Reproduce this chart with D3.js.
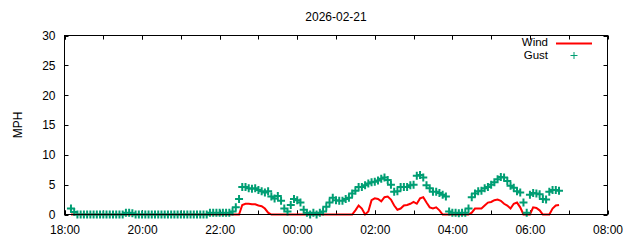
<!DOCTYPE html>
<html>
<head>
<meta charset="utf-8">
<script src="https://cdn.jsdelivr.net/npm/d3@7"></script>
<style>
  body { margin: 0; background: #fff; }
  text { font-family: "Liberation Sans", Arial, sans-serif; font-size: 12px; fill: #000; }
</style>
</head>
<body>
<div id="chart"></div>
<script>
// Data section

var title = "2026-02-21";
var yLabel = "MPH";
var seriesNames = ["Wind", "Gust"];

// first sample and spacing of the weather station readings
var startTime = "2026-02-20 18:10";
var stepMinutes = 5;

var yTicks = [0, 5, 10, 15, 20, 25, 30];
var xTickTimes = ["2026-02-20 18:00", "2026-02-20 20:00", "2026-02-20 22:00", "2026-02-21 00:00",
                  "2026-02-21 02:00", "2026-02-21 04:00", "2026-02-21 06:00", "2026-02-21 08:00"];

// gust readings (mph), one every 5 minutes
var gust = [
  1.0, 0.4, 0, 0, 0, 0, 0, 0, 0, 0,                       // 18:10 - 18:55
  0, 0, 0, 0, 0, 0, 0, 0.3, 0.3, 0.2, 0, 0,                // 19
  0, 0, 0, 0, 0, 0, 0, 0, 0, 0, 0, 0,                      // 20
  0, 0, 0, 0, 0, 0, 0, 0, 0, 0.3, 0.3, 0.3,                // 21
  0.3, 0.3, 0.3, 0.3, 0.5, 1.2, 2.6, 4.6, 4.6, 4.4, 4.3, 4.4, // 22
  4.1, 3.9, 3.7, 3.9, 3.0, 2.7, 3.1, 2.3, 1.0, 0.5, 1.6, 2.6, // 23
  2.4, 2.0, 0.8, 0.3, 0, 0.3, 0, 0.3, 0.5, 1.3, 2.0, 2.8,  // 00
  2.4, 2.3, 2.3, 2.6, 2.8, 3.5, 4.0, 4.6, 4.6, 4.9, 5.2, 5.4, // 01
  5.5, 5.7, 6.0, 6.2, 5.8, 5.0, 3.8, 3.9, 4.6, 4.6, 4.6, 4.9, // 02
  5.0, 6.5, 6.6, 6.2, 4.9, 4.4, 3.8, 3.8, 3.6, 3.3, 3.0, 0.5, // 03
  0.3, 0.3, 0.2, 0.3, 0.3, 1.0, 2.9, 3.5, 3.9, 4.0, 4.4, 4.6, // 04
  5.0, 5.4, 5.9, 6.3, 6.2, 5.6, 4.8, 4.5, 3.9, 3.7, 2.0, 0.3, // 05
  3.3, 3.6, 3.5, 3.4, 2.6, 2.5, 3.8, 4.1, 4.1, 4.0          // 06:00 - 06:45
];

// wind readings (mph), same times
var wind = [
  0, 0, 0, 0, 0, 0, 0, 0, 0, 0,
  0, 0, 0, 0, 0, 0, 0, 0, 0, 0, 0, 0,
  0, 0, 0, 0, 0, 0, 0, 0, 0, 0, 0, 0,
  0, 0, 0, 0, 0, 0, 0, 0, 0, 0, 0, 0,
  0, 0, 0, 0, 0, 0, 0, 1.6, 1.8, 1.8, 1.7, 1.7,
  1.5, 1.4, 1.0, 0.3, 0, 0, 0, 0, 0, 0, 0, 0,
  0, 0, 0, 0, 0, 0, 0, 0, 0, 0, 0, 0,
  0, 0, 0, 0, 0, 0, 0.7, 1.5, 1.0, 0, 0.5, 2.4,
  2.7, 2.6, 2.2, 2.9, 3.0, 2.5, 1.5, 0.8, 1.0, 1.5, 1.6, 1.8,
  2.1, 1.8, 2.7, 2.9, 2.0, 1.2, 1.0, 1.2, 0.7, 0, 0, 0,
  0, 0, 0, 0, 0, 0, 0.3, 1.0, 1.0, 1.0, 1.5, 2.0,
  2.1, 2.4, 2.5, 2.3, 1.8, 1.5, 1.0, 1.8, 2.0, 1.2, 0, 0,
  0, 1.2, 1.1, 0.7, 0, 0, 0, 1.0, 1.5, 1.6
];

// Graph space section

var width = 640;
var height = 240;
var plotLeft = 64.5;
var plotRight = 607.5;
var plotTop = 35.5;
var plotBottom = 214.5;

var parseTime = d3.timeParse("%Y-%m-%d %H:%M");
var t0 = parseTime(startTime);

var readings = gust.map(function(g, i) {
  return { time: d3.timeMinute.offset(t0, i * stepMinutes), gust: g, wind: wind[i] };
});

var tickDates = xTickTimes.map(parseTime);

var x = d3.scaleTime()
  .domain([tickDates[0], tickDates[tickDates.length - 1]])
  .range([plotLeft, plotRight]);

var y = d3.scaleLinear()
  .domain([yTicks[0], yTicks[yTicks.length - 1]])
  .range([plotBottom, plotTop]);

var svg = d3.select("#chart")
  .append("svg")
  .attr("width", width)
  .attr("height", height);

// hourly minor ticks in between the labelled ones
var minorTicks = d3.timeHour.range(tickDates[0], tickDates[tickDates.length - 1]);

// bottom axis with labels
svg.append("g")
  .attr("transform", "translate(0," + plotBottom + ")")
  .call(d3.axisBottom(x).tickValues(tickDates).tickFormat(d3.timeFormat("%H:%M")).tickSize(0).tickPadding(11))
  .call(function(g) { g.select(".domain").remove(); })
  .selectAll("text").attr("font-family", null).attr("font-size", null);

// left axis with labels
svg.append("g")
  .attr("transform", "translate(" + plotLeft + ",0)")
  .call(d3.axisLeft(y).tickValues(yTicks).tickSize(0).tickPadding(9))
  .call(function(g) { g.select(".domain").remove(); })
  .selectAll("text").attr("font-family", null).attr("font-size", null);

// inward ticks, mirrored on top and right
var tickLen = 4;
var ticks = svg.append("g").attr("stroke", "#000").attr("stroke-width", 1);

ticks.selectAll(".xb").data(minorTicks.concat(tickDates)).enter().append("line")
  .attr("x1", function(d) { return Math.round(x(d)) + 0.5; })
  .attr("x2", function(d) { return Math.round(x(d)) + 0.5; })
  .attr("y1", plotBottom).attr("y2", plotBottom - tickLen);
ticks.selectAll(".xt").data(minorTicks.concat(tickDates)).enter().append("line")
  .attr("x1", function(d) { return Math.round(x(d)) + 0.5; })
  .attr("x2", function(d) { return Math.round(x(d)) + 0.5; })
  .attr("y1", plotTop).attr("y2", plotTop + tickLen);
ticks.selectAll(".yl").data(yTicks).enter().append("line")
  .attr("y1", function(d) { return Math.round(y(d)) + 0.5; })
  .attr("y2", function(d) { return Math.round(y(d)) + 0.5; })
  .attr("x1", plotLeft).attr("x2", plotLeft + tickLen);
ticks.selectAll(".yr").data(yTicks).enter().append("line")
  .attr("y1", function(d) { return Math.round(y(d)) + 0.5; })
  .attr("y2", function(d) { return Math.round(y(d)) + 0.5; })
  .attr("x1", plotRight).attr("x2", plotRight - tickLen);

// wind line
var windLine = d3.line()
  .x(function(d) { return x(d.time); })
  .y(function(d) { return y(d.wind); });

svg.append("path")
  .datum(readings)
  .attr("fill", "none")
  .attr("stroke", "#ff0000")
  .attr("stroke-width", 2)
  .attr("stroke-linejoin", "miter")
  .attr("d", windLine);

// gust points as plus signs
function plusPath(cx, cy, r) {
  return "M" + (cx - r) + "," + cy + "H" + (cx + r) +
         "M" + cx + "," + (cy - r) + "V" + (cy + r);
}

svg.append("path")
  .attr("fill", "none")
  .attr("stroke", "#009e73")
  .attr("stroke-width", 2)
  .attr("d", readings.map(function(d) { return plusPath(x(d.time), y(d.gust), 4); }).join(""));

// border
svg.append("rect")
  .attr("x", plotLeft).attr("y", plotTop)
  .attr("width", plotRight - plotLeft).attr("height", plotBottom - plotTop)
  .attr("fill", "none").attr("stroke", "#000").attr("stroke-width", 1);

// title
svg.append("text")
  .attr("x", (plotLeft + plotRight) / 2)
  .attr("y", 21)
  .attr("text-anchor", "middle")
  .text(title);

// y axis label
svg.append("text")
  .attr("transform", "translate(22," + (plotTop + plotBottom) / 2 + ") rotate(-90)")
  .attr("text-anchor", "middle")
  .text(yLabel);

// legend
var legend = svg.append("g").style("font-size", "11.5px");
legend.append("text").attr("x", 548).attr("y", 46).attr("text-anchor", "end")
  .style("font-size", "11.5px").text(seriesNames[0]);
legend.append("line").attr("x1", 556).attr("x2", 592).attr("y1", 43.5).attr("y2", 43.5)
  .attr("stroke", "#ff0000").attr("stroke-width", 2);
legend.append("text").attr("x", 548).attr("y", 59).attr("text-anchor", "end")
  .style("font-size", "11.5px").text(seriesNames[1]);
legend.append("path").attr("d", plusPath(574, 55.5, 3.5))
  .attr("stroke", "#009e73").attr("stroke-width", 1).attr("fill", "none");
</script>
</body>
</html>
